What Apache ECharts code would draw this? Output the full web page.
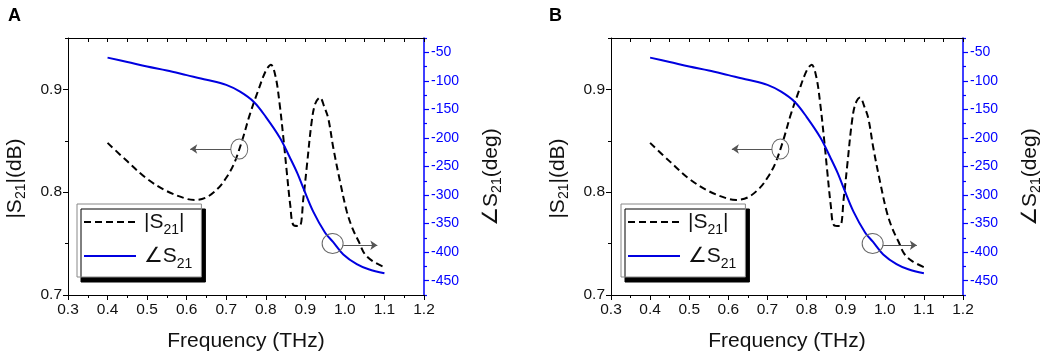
<!DOCTYPE html>
<html>
<head>
<meta charset="utf-8">
<script src="https://cdn.jsdelivr.net/npm/echarts@6/dist/echarts.min.js"></script>
<style>
html,body{margin:0;padding:0;background:#fff;}
#c{width:1052px;height:363px;}
</style>
</head>
<body>
<div id="c"></div>
<script>
// ---- data ----
const magFreq = [0.40,0.45,0.50,0.55,0.60,0.62,0.65,0.68,0.70,0.72,0.74,0.76,0.78,0.80,0.813,0.825,0.835,0.845,0.853,0.862,0.870,0.885,0.895,0.904,0.916,0.925,0.937,0.948,0.958,0.971,0.988,1.005,1.020,1.035,1.050,1.070,1.100];
const magVals = [0.848,0.830,0.813,0.801,0.7935,0.7925,0.795,0.804,0.814,0.828,0.850,0.876,0.898,0.918,0.924,0.912,0.886,0.851,0.820,0.787,0.768,0.767,0.794,0.826,0.8685,0.886,0.892,0.883,0.8717,0.8425,0.810,0.781,0.764,0.752,0.740,0.733,0.727];
const phaseFreq = [0.40,0.45,0.50,0.55,0.60,0.65,0.70,0.735,0.77,0.80,0.836,0.86,0.88,0.895,0.92,0.95,0.97,0.996,1.03,1.06,1.10];
const phaseVals = [-59.4,-67,-75,-82,-90,-98,-107,-119,-137,-163,-200,-233,-262,-288,-329,-366,-382,-404,-421,-430,-437];

const xTicks = [0.3,0.4,0.5,0.6,0.7,0.8,0.9,1.0,1.1,1.2];
const leftMajor = [0.7,0.8,0.9];
const leftMinor = [0.75,0.85,0.95];
const rightMajor = [-450,-400,-350,-300,-250,-200,-150,-100,-50];
const rightMinor = [-475,-425,-375,-325,-275,-225,-175,-125,-75,-25];

// annotation markers (data coordinates, left axis)
const circleMarks = [[0.733,0.842,17,20],[0.969,0.750,21,20]];
const arrowMarks = [[[0.712,0.842],[0.609,0.842]],[[0.996,0.7484],[1.082,0.7484]]];

const panelLabels = ['A','B'];
const magName = '|S21|';
const phaseName = '\u2220S21';

const FONT = '"Liberation Sans", Arial, "DejaVu Sans", sans-serif';
const BLUE = '#0000ff';
const LINEBLUE = '#0000e0';

const panels = [
  {left:68, width:356, legLeft:77, labelLeft:3},
  {left:611, width:352, legLeft:621, labelLeft:544}
];
const gridTop = 38, gridH = 257;

const subRich = {sub:{fontSize:14, lineHeight:12, verticalAlign:'bottom', fontFamily:FONT}};

const grids=[], xAxes=[], yAxes=[], series=[], legends=[], titles=[];
panels.forEach((p,i)=>{
  grids.push({left:p.left, top:gridTop, width:p.width, height:gridH, containLabel:false});
  const xBase = {
    gridIndex:i, type:'value', min:0.3, max:1.2, interval:0.1,
    splitLine:{show:false},
    axisLine:{show:true, lineStyle:{color:'#000', width:1}},
  };
  xAxes.push(Object.assign({}, xBase, {
    position:'bottom',
    name:'Frequency (THz)', nameLocation:'middle', nameGap:36,
    nameTextStyle:{fontSize:21, fontFamily:FONT, color:'#111'},
    axisTick:{show:true, inside:false, length:5, lineStyle:{color:'#000'}},
    minorTick:{show:true, splitNumber:2, length:3, lineStyle:{color:'#000'}},
    axisLabel:{show:true, margin:7, fontSize:15.5, fontFamily:FONT, color:'#111',
      formatter:v=>Number(v).toFixed(1)}
  }));
  xAxes.push(Object.assign({}, xBase, {
    position:'top',
    axisTick:{show:true, inside:true, length:4, lineStyle:{color:'#000'}},
    minorTick:{show:true, splitNumber:2, length:4, lineStyle:{color:'#000'}},
    axisLabel:{show:false}
  }));
  // left main
  yAxes.push({
    gridIndex:i, type:'value', position:'left', min:0.7, max:0.95,
    splitLine:{show:false},
    axisLine:{show:true, lineStyle:{color:'#000', width:1}},
    axisTick:{show:true, length:5, customValues:leftMajor, lineStyle:{color:'#000'}},
    axisLabel:{show:true, margin:6, fontSize:15.5, fontFamily:FONT, color:'#111',
      customValues:leftMajor, formatter:v=>Number(v).toFixed(1)},
    name:'|S{sub|21}|(dB)', nameLocation:'middle', nameGap:40, nameRotate:90,
    nameTextStyle:{fontSize:21, fontFamily:FONT, color:'#111', lineHeight:26, padding:[0,24,0,0], rich:subRich}
  });
  // left minor
  yAxes.push({
    gridIndex:i, type:'value', position:'left', min:0.7, max:0.95,
    splitLine:{show:false}, axisLine:{show:false},
    axisTick:{show:true, length:3, customValues:leftMinor, lineStyle:{color:'#000'}},
    axisLabel:{show:false}
  });
  // right main
  yAxes.push({
    gridIndex:i, type:'value', position:'right', min:-475, max:-25,
    splitLine:{show:false},
    axisLine:{show:true, lineStyle:{color:BLUE, width:1.5}},
    axisTick:{show:true, length:5, customValues:rightMajor, lineStyle:{color:BLUE, width:1.2}},
    axisLabel:{show:true, margin:7, fontSize:14, fontFamily:FONT, color:BLUE, customValues:rightMajor},
    name:'\u2220S{sub|21}(deg)', nameLocation:'middle', nameGap:54, nameRotate:90,
    nameTextStyle:{fontSize:21, fontFamily:FONT, color:'#111', lineHeight:26, padding:[0,21,0,0], rich:subRich}
  });
  // right minor
  yAxes.push({
    gridIndex:i, type:'value', position:'right', min:-475, max:-25,
    splitLine:{show:false}, axisLine:{show:false},
    axisTick:{show:true, length:3, customValues:rightMinor, lineStyle:{color:BLUE, width:1.2}},
    axisLabel:{show:false}
  });

  series.push({
    name:magName, type:'line', xAxisIndex:2*i, yAxisIndex:4*i,
    data:magFreq.map((f,k)=>[f,magVals[k]]),
    showSymbol:false, symbol:'none', smooth:0.35,
    lineStyle:{color:'#000', width:2, type:[7,4]},
    itemStyle:{color:'#000'},
    markPoint:{
      silent:true, animation:false,
      data:circleMarks.map(c=>({coord:[c[0],c[1]], symbol:'circle', symbolSize:[c[2],c[3]],
        itemStyle:{color:'rgba(0,0,0,0)', borderColor:'#666', borderWidth:1}, label:{show:false}}))
    },
    markLine:{
      silent:true, animation:false, symbol:['none','arrow'], symbolSize:7,
      label:{show:false},
      lineStyle:{color:'#555', width:1, type:'solid'},
      data:arrowMarks.map(a=>[{coord:a[0]},{coord:a[1]}])
    },
    animation:false
  });
  series.push({
    name:phaseName, type:'line', xAxisIndex:2*i, yAxisIndex:4*i+2,
    data:phaseFreq.map((f,k)=>[f,phaseVals[k]]),
    showSymbol:false, symbol:'none', smooth:0.35,
    lineStyle:{color:LINEBLUE, width:2, type:'solid'},
    itemStyle:{color:LINEBLUE},
    animation:false
  });

  legends.push({
    data:[magName, phaseName], orient:'vertical', left:p.legLeft, top:204,
    itemWidth:52, itemHeight:2, itemGap:4,
    padding:[3,9,6,6],
    backgroundColor:'#fff', borderColor:'#888', borderWidth:1,
    shadowColor:'#000', shadowBlur:0, shadowOffsetX:4, shadowOffsetY:5,
    selectedMode:false,
    itemStyle:{opacity:0},
    formatter:n=> n===magName ? '|S{sub|21}|' : '\u2220S{sub|21}',
    textStyle:{fontSize:21, fontFamily:FONT, color:'#111', lineHeight:30, padding:[0,0,0,3],
      rich:{sub:{fontSize:14, lineHeight:14, verticalAlign:'bottom', fontFamily:FONT}}}
  });
  titles.push({text:panelLabels[i], left:p.labelLeft, top:2,
    textStyle:{fontSize:18, fontWeight:'bold', fontFamily:FONT, color:'#000'}});
});

const chart = echarts.init(document.getElementById('c'), null, {renderer:'canvas'});
chart.setOption({
  animation:false,
  backgroundColor:'#fff',
  title:titles,
  grid:grids,
  xAxis:xAxes,
  yAxis:yAxes,
  legend:legends,
  series:series
});
</script>
</body>
</html>
